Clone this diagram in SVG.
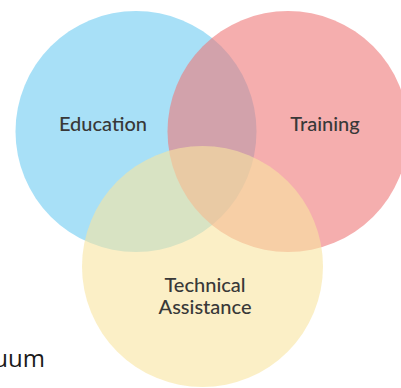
<svg xmlns="http://www.w3.org/2000/svg" width="401" height="388" viewBox="0 0 401 388">
<style>
.c{fill-opacity:0.6}
.lbl{font-family:Lato,"Open Sans","Liberation Sans",sans-serif;font-size:20px;font-weight:500;fill:#383838;text-anchor:middle}
.cut{font-family:"Open Sans","Liberation Sans",sans-serif;font-size:24px;fill:#1a1a1a;text-anchor:end}
</style>
<rect width="401" height="388" fill="#ffffff"/>
<g id="education">
<circle class="c" cx="136" cy="131.5" r="120.5" fill="#6ecbf2"/>
<text class="lbl" x="103" y="131">Education</text>
</g>
<g id="training">
<circle class="c" cx="288" cy="131.5" r="120.5" fill="#ee7878"/>
<text class="lbl" x="325" y="131">Training</text>
</g>
<g id="technical-assistance">
<circle class="c" cx="202.5" cy="266.5" r="120.5" fill="#f8e5a0"/>
<text class="lbl" x="205" y="292"><tspan x="205" y="292">Technical</tspan><tspan x="205" y="313.5">Assistance</tspan></text>
</g>
<text class="cut" x="45" y="367">uum</text>
</svg>
